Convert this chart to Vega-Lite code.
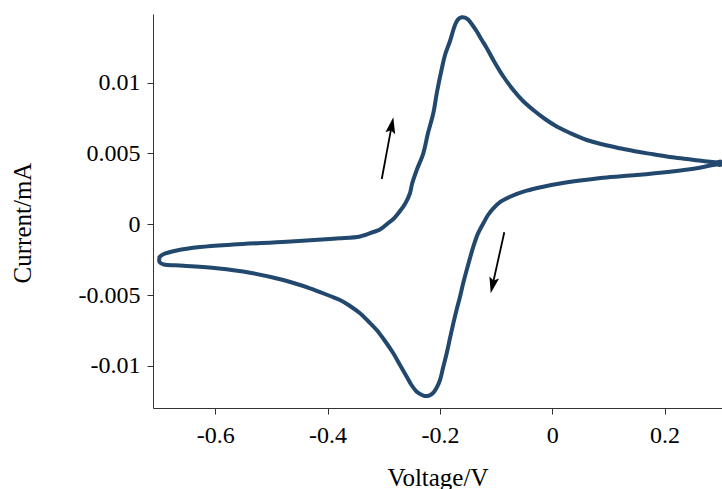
{
  "$schema": "https://vega.github.io/schema/vega-lite/v6.json",
  "width": 569,
  "height": 394,
  "autosize": {"type": "none"},
  "padding": {"left": 153, "top": 14, "right": 0, "bottom": 81},
  "background": "white",
  "config": {
    "view": {"stroke": null},
    "axis": {
      "grid": false,
      "domainColor": "#333333",
      "domainWidth": 1,
      "tickColor": "#333333",
      "tickSize": 6,
      "tickWidth": 1,
      "labelFont": "Liberation Serif",
      "labelFontSize": 24,
      "labelColor": "#000000",
      "titleFont": "Liberation Serif",
      "titleFontSize": 25,
      "titleFontWeight": "normal",
      "titleColor": "#000000"
    }
  },
  "datasets": {
    "cv": [
      {"o": 1, "v": -0.6994, "i": -0.002306},
      {"o": 2, "v": -0.6926, "i": -0.002116},
      {"o": 3, "v": -0.6687, "i": -0.001847},
      {"o": 4, "v": -0.6272, "i": -0.0016},
      {"o": 5, "v": -0.5679, "i": -0.001424},
      {"o": 6, "v": -0.4728, "i": -0.001226},
      {"o": 7, "v": -0.3898, "i": -0.001014},
      {"o": 8, "v": -0.3779, "i": -0.000986},
      {"o": 9, "v": -0.3423, "i": -0.000859},
      {"o": 10, "v": -0.3186, "i": -0.000541},
      {"o": 11, "v": -0.3067, "i": -0.000365},
      {"o": 12, "v": -0.2919, "i": 0.000094},
      {"o": 13, "v": -0.283, "i": 0.000376},
      {"o": 14, "v": -0.2711, "i": 0.000941},
      {"o": 15, "v": -0.2622, "i": 0.001435},
      {"o": 16, "v": -0.2532, "i": 0.002212},
      {"o": 17, "v": -0.2497, "i": 0.002847},
      {"o": 18, "v": -0.2413, "i": 0.003835},
      {"o": 19, "v": -0.2296, "i": 0.005014},
      {"o": 20, "v": -0.2212, "i": 0.006447},
      {"o": 21, "v": -0.2118, "i": 0.007838},
      {"o": 22, "v": -0.2052, "i": 0.009341},
      {"o": 23, "v": -0.1968, "i": 0.010965},
      {"o": 24, "v": -0.1909, "i": 0.011953},
      {"o": 25, "v": -0.182, "i": 0.012941},
      {"o": 26, "v": -0.1731, "i": 0.014071},
      {"o": 27, "v": -0.1678, "i": 0.014459},
      {"o": 28, "v": -0.1612, "i": 0.014614},
      {"o": 29, "v": -0.1553, "i": 0.014593},
      {"o": 30, "v": -0.1494, "i": 0.014445},
      {"o": 31, "v": -0.1428, "i": 0.014106},
      {"o": 32, "v": -0.1345, "i": 0.013626},
      {"o": 33, "v": -0.1259, "i": 0.013047},
      {"o": 34, "v": -0.1167, "i": 0.012447},
      {"o": 35, "v": -0.1049, "i": 0.0116},
      {"o": 36, "v": -0.0876, "i": 0.010471},
      {"o": 37, "v": -0.0693, "i": 0.009482},
      {"o": 38, "v": -0.052, "i": 0.008706},
      {"o": 39, "v": -0.0337, "i": 0.008071},
      {"o": 40, "v": -0.0128, "i": 0.007435},
      {"o": 41, "v": 0.008, "i": 0.006906},
      {"o": 42, "v": 0.0317, "i": 0.006447},
      {"o": 43, "v": 0.0614, "i": 0.005953},
      {"o": 44, "v": 0.0905, "i": 0.005635},
      {"o": 45, "v": 0.1207, "i": 0.005367},
      {"o": 46, "v": 0.1492, "i": 0.005141},
      {"o": 47, "v": 0.1801, "i": 0.004944},
      {"o": 48, "v": 0.2098, "i": 0.004753},
      {"o": 49, "v": 0.2395, "i": 0.004612},
      {"o": 50, "v": 0.2686, "i": 0.004471},
      {"o": 51, "v": 0.293, "i": 0.004379},
      {"o": 52, "v": 0.3, "i": 0.00442},
      {"o": 53, "v": 0.3, "i": 0.0042},
      {"o": 54, "v": 0.293, "i": 0.004224},
      {"o": 55, "v": 0.2573, "i": 0.003955},
      {"o": 56, "v": 0.2098, "i": 0.003715},
      {"o": 57, "v": 0.1505, "i": 0.003482},
      {"o": 58, "v": 0.091, "i": 0.003296},
      {"o": 59, "v": 0.0495, "i": 0.003094},
      {"o": 60, "v": 0.0139, "i": 0.002882},
      {"o": 61, "v": -0.0159, "i": 0.002656},
      {"o": 62, "v": -0.0454, "i": 0.002374},
      {"o": 63, "v": -0.0752, "i": 0.00195},
      {"o": 64, "v": -0.093, "i": 0.001576},
      {"o": 65, "v": -0.1049, "i": 0.001132},
      {"o": 66, "v": -0.1143, "i": 0.000659},
      {"o": 67, "v": -0.1227, "i": 0.000073},
      {"o": 68, "v": -0.1321, "i": -0.000641},
      {"o": 69, "v": -0.1405, "i": -0.001579},
      {"o": 70, "v": -0.1464, "i": -0.002377},
      {"o": 71, "v": -0.1523, "i": -0.003224},
      {"o": 72, "v": -0.1589, "i": -0.004212},
      {"o": 73, "v": -0.1642, "i": -0.005109},
      {"o": 74, "v": -0.1704, "i": -0.006047},
      {"o": 75, "v": -0.1761, "i": -0.006986},
      {"o": 76, "v": -0.182, "i": -0.008024},
      {"o": 77, "v": -0.1879, "i": -0.009104},
      {"o": 78, "v": -0.1945, "i": -0.010142},
      {"o": 79, "v": -0.1998, "i": -0.010989},
      {"o": 80, "v": -0.2061, "i": -0.011553},
      {"o": 81, "v": -0.2118, "i": -0.011885},
      {"o": 82, "v": -0.2194, "i": -0.012083},
      {"o": 83, "v": -0.2265, "i": -0.012118},
      {"o": 84, "v": -0.2337, "i": -0.012012},
      {"o": 85, "v": -0.2413, "i": -0.011815},
      {"o": 86, "v": -0.2506, "i": -0.011342},
      {"o": 87, "v": -0.2591, "i": -0.010756},
      {"o": 88, "v": -0.2711, "i": -0.00993},
      {"o": 89, "v": -0.283, "i": -0.009104},
      {"o": 90, "v": -0.2978, "i": -0.008236},
      {"o": 91, "v": -0.3126, "i": -0.007459},
      {"o": 92, "v": -0.3281, "i": -0.006824},
      {"o": 93, "v": -0.3423, "i": -0.00628},
      {"o": 94, "v": -0.3601, "i": -0.005765},
      {"o": 95, "v": -0.3779, "i": -0.005342},
      {"o": 96, "v": -0.3957, "i": -0.00506},
      {"o": 97, "v": -0.4313, "i": -0.004516},
      {"o": 98, "v": -0.4789, "i": -0.00393},
      {"o": 99, "v": -0.5382, "i": -0.003414},
      {"o": 100, "v": -0.5975, "i": -0.003104},
      {"o": 101, "v": -0.657, "i": -0.00292},
      {"o": 102, "v": -0.6926, "i": -0.002822},
      {"o": 103, "v": -0.6994, "i": -0.002659},
      {"o": 104, "v": -0.6994, "i": -0.002306}
    ],
    "arrows": [
      {"dir": "up", "v0": -0.3036, "i0": 0.0032, "v1": -0.2863, "i1": 0.006864, "vt": -0.283, "it": 0.007555},
      {"dir": "down", "v0": -0.0853, "i0": -0.000563, "v1": -0.1056, "i1": -0.00418, "vt": -0.1095, "it": -0.004869}
    ]
  },
  "layer": [
    {
      "data": {"name": "cv"},
      "mark": {"type": "line", "color": "#22486E", "strokeWidth": 4, "strokeJoin": "round", "strokeCap": "round", "interpolate": "catmull-rom", "clip": false},
      "encoding": {
        "x": {
          "field": "v", "type": "quantitative",
          "scale": {"domain": [-0.711, 0.3024], "nice": false, "zero": false},
          "axis": {
            "title": "Voltage/V",
            "values": [-0.6, -0.4, -0.2, 0, 0.2],
            "format": "~g",
            "labelExpr": "replace(datum.label, '\u2212', '-')",
            "labelPadding": 9,
            "titleY": 77,
            "titleBaseline": "alphabetic"
          }
        },
        "y": {
          "field": "i", "type": "quantitative",
          "scale": {"domain": [-0.012965, 0.014847], "nice": false, "zero": false},
          "axis": {
            "title": "Current/mA",
            "values": [-0.01, -0.005, 0, 0.005, 0.01],
            "format": "~g",
            "labelExpr": "replace(datum.label, '\u2212', '-')",
            "labelPadding": 7,
            "titleX": -123,
            "titleY": 208.5,
            "titleBaseline": "alphabetic",
            "titleAngle": -90
          }
        },
        "order": {"field": "o", "type": "quantitative"}
      }
    },
    {
      "data": {"name": "arrows"},
      "mark": {"type": "rule", "color": "#000000", "strokeWidth": 1.8},
      "encoding": {
        "x": {"field": "v0", "type": "quantitative"},
        "y": {"field": "i0", "type": "quantitative"},
        "x2": {"field": "v1"},
        "y2": {"field": "i1"}
      }
    },
    {
      "data": {"name": "arrows"},
      "transform": [{"filter": "datum.dir == 'up'"}],
      "mark": {"type": "point", "shape": "M0,0L-0.55,1.8L0,1.45L0.55,1.8Z", "size": 324, "filled": true, "color": "#000000", "opacity": 1, "angle": 10.7},
      "encoding": {
        "x": {"field": "vt", "type": "quantitative"},
        "y": {"field": "it", "type": "quantitative"}
      }
    },
    {
      "data": {"name": "arrows"},
      "transform": [{"filter": "datum.dir == 'down'"}],
      "mark": {"type": "point", "shape": "M0,0L-0.55,1.8L0,1.45L0.55,1.8Z", "size": 324, "filled": true, "color": "#000000", "opacity": 1, "angle": 192.6},
      "encoding": {
        "x": {"field": "vt", "type": "quantitative"},
        "y": {"field": "it", "type": "quantitative"}
      }
    }
  ]
}
